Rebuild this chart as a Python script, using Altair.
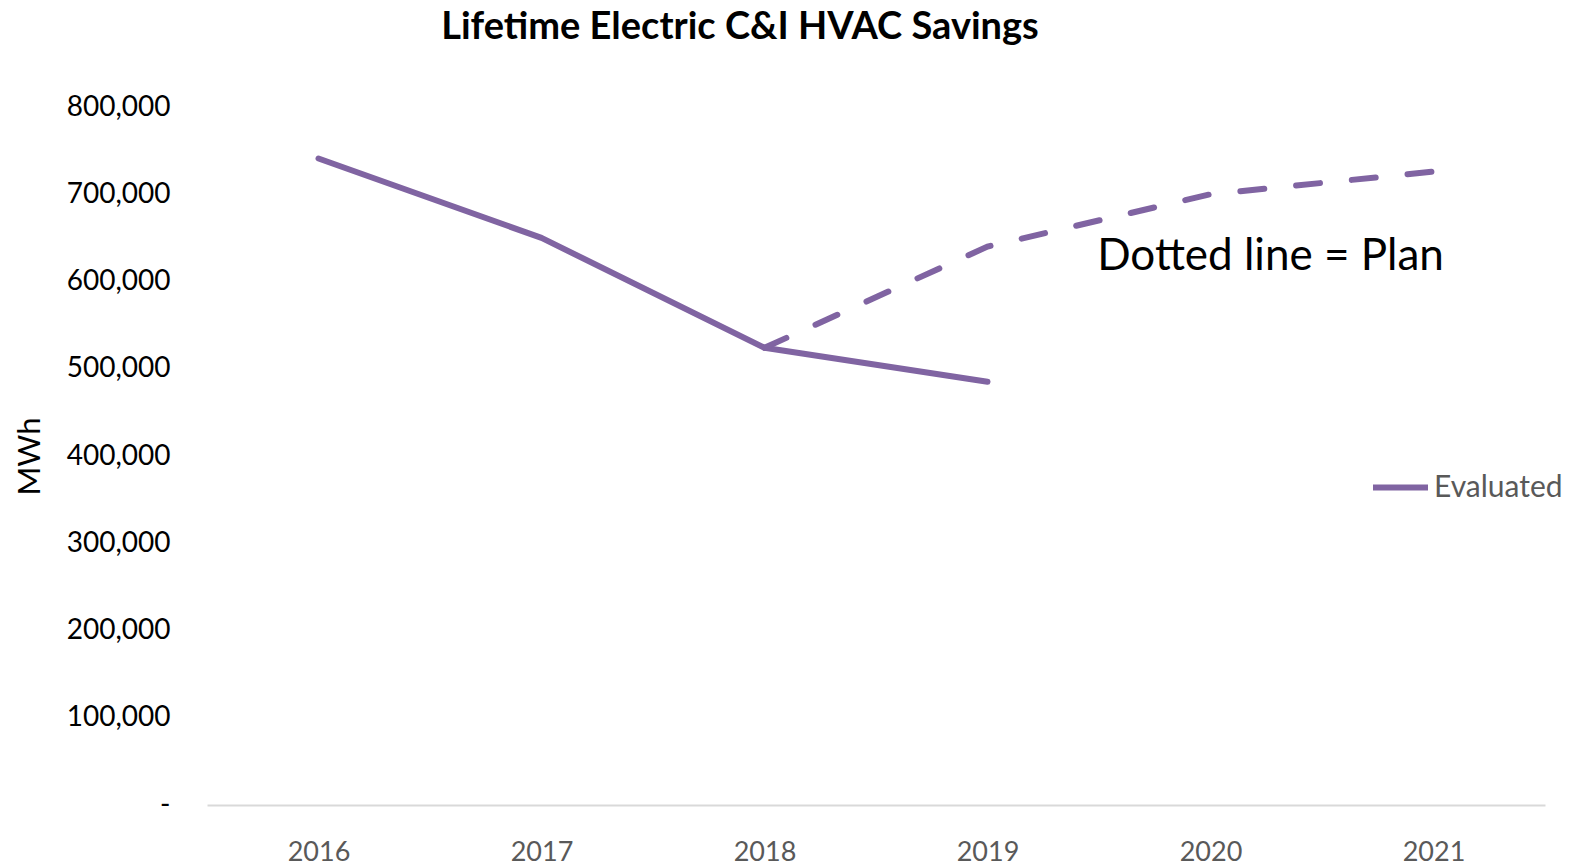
import altair as alt
import pandas as pd

years = ["2016", "2017", "2018", "2019", "2020", "2021"]
eval_years = ["2016", "2017", "2018", "2019"]
eval_values = [741000, 650000, 524000, 485000]
plan_years = ["2018", "2019", "2020", "2021"]
plan_values = [524000, 640000, 700000, 726000]
y_ticks = [0, 100000, 200000, 300000, 400000, 500000, 600000, 700000, 800000]
note_year = ["2020"]
note_value = [628000]
note_text = ["Dotted line = Plan"]

PURPLE = "#8064A2"
FONT = "Lato"

eval_df = pd.DataFrame({"year": eval_years, "value": eval_values, "series": "Evaluated"})
plan_df = pd.DataFrame({"year": plan_years, "value": plan_values, "series": "Plan"})
note_df = pd.DataFrame({"year": note_year, "value": note_value, "text": note_text})

x_scale = alt.Scale(domain=years, type="point", padding=0.5)

x_enc = alt.X(
    "year:O",
    scale=x_scale,
    axis=alt.Axis(
        title=None, labelAngle=0, ticks=False, domainColor="#D9D9D9", domainWidth=2,
        labelColor="#595959", labelFontSize=27, labelFont=FONT, labelPadding=34, grid=False,
    ),
)
y_enc = alt.Y(
    "value:Q",
    scale=alt.Scale(domain=[0, 800000], nice=False, zero=True),
    axis=alt.Axis(
        title="MWh", titleFontSize=31, titleFont=FONT, titleFontWeight="normal", titleColor="#000000",
        titlePadding=20, values=y_ticks, labelExpr="datum.value == 0 ? '-' : format(datum.value, ',')",
        labelColor="#000000", labelFontSize=28, labelFont=FONT, labelPadding=37,
        ticks=False, domain=False, grid=False,
    ),
)

eval_line = alt.Chart(eval_df).mark_line(strokeWidth=6, strokeCap="round", strokeJoin="round").encode(
    x=x_enc, y=y_enc,
    color=alt.Color(
        "series:N",
        scale=alt.Scale(domain=["Evaluated"], range=[PURPLE]),
        legend=alt.Legend(
            title=None, orient="none", legendX=1163, legendY=350, symbolType="stroke",
            symbolSize=3025, symbolStrokeWidth=6, labelFontSize=30, labelFont=FONT,
            labelColor="#595959", labelOffset=3,
        ),
    ),
)

plan_line = alt.Chart(plan_df).mark_line(
    strokeWidth=6, strokeCap="round", strokeDash=[24, 32], color=PURPLE
).encode(x=alt.X("year:O", scale=x_scale), y="value:Q")

note = alt.Chart(note_df).mark_text(
    fontSize=44, font=FONT, color="#000000", dx=60, align="center", baseline="middle"
).encode(x=alt.X("year:O", scale=x_scale), y="value:Q", text="text:N")

chart = alt.layer(eval_line, plan_line, note).properties(
    width=1338, height=698,
    padding={"left": 199, "top": 99, "right": 22, "bottom": 60},
    autosize="none",
    background="white",
    title=alt.TitleParams(
        "Lifetime Electric C&I HVAC Savings", fontSize=38, font=FONT, fontWeight="bold",
        color="#000000", anchor="middle", dx=-136, offset=46,
    ),
).configure_view(strokeWidth=0, stroke="transparent")

chart.save("out.html", embed_options={"renderer": "svg", "actions": False})
